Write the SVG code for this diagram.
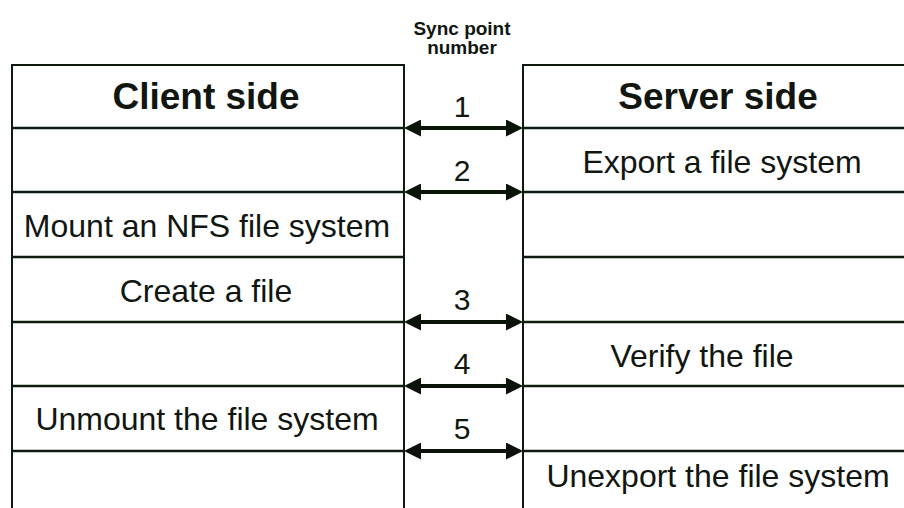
<svg xmlns="http://www.w3.org/2000/svg" width="904" height="508" viewBox="0 0 904 508">
  <style>
    .frame { fill: none; stroke: #111a11; stroke-width: 2; }
    .rule { stroke: #111a11; stroke-width: 2.5; }
    .sync { stroke: #0a120a; stroke-width: 4; fill: none; marker-start: url(#head); marker-end: url(#head); }
    text { font-family: "Liberation Sans", Arial, sans-serif; fill: #111611; text-anchor: middle; }
    .title { font-size: 37px; font-weight: bold; }
    .caption { font-size: 19px; font-weight: bold; }
    .step { font-size: 32px; }
    .num { font-size: 30px; }
  </style>
  <defs>
    <marker id="head" viewBox="0 0 17 17" markerWidth="17" markerHeight="17" refX="7" refY="8.5" markerUnits="userSpaceOnUse" orient="auto-start-reverse">
      <path d="M0,0 L17,8.5 L0,17 z" fill="#0a120a"/>
    </marker>
  </defs>

  <!-- column heading for the sync points -->
  <g id="sync-caption">
    <text class="caption" x="462" y="35">Sync point</text>
    <text class="caption" x="462" y="54">number</text>
  </g>

  <!-- client column -->
  <g id="client-column">
    <path class="frame" d="M12,516 V65 H404 V516"/>
    <line class="rule" x1="12" y1="128" x2="404" y2="128"/>
    <line class="rule" x1="12" y1="192" x2="404" y2="192"/>
    <line class="rule" x1="12" y1="257" x2="404" y2="257"/>
    <line class="rule" x1="12" y1="322" x2="404" y2="322"/>
    <line class="rule" x1="12" y1="386" x2="404" y2="386"/>
    <line class="rule" x1="12" y1="451" x2="404" y2="451"/>
  </g>
  <g id="client-header"><text class="title" x="206" y="109">Client side</text></g>
  <g id="client-mount"><text class="step" x="207" y="237">Mount an NFS file system</text></g>
  <g id="client-create"><text class="step" x="206" y="302">Create a file</text></g>
  <g id="client-unmount"><text class="step" x="207" y="430">Unmount the file system</text></g>

  <!-- server column -->
  <g id="server-column">
    <path class="frame" d="M523,516 V65 H912"/>
    <line class="rule" x1="523" y1="128" x2="904" y2="128"/>
    <line class="rule" x1="523" y1="192" x2="904" y2="192"/>
    <line class="rule" x1="523" y1="257" x2="904" y2="257"/>
    <line class="rule" x1="523" y1="322" x2="904" y2="322"/>
    <line class="rule" x1="523" y1="386" x2="904" y2="386"/>
    <line class="rule" x1="523" y1="451" x2="904" y2="451"/>
  </g>
  <g id="server-header"><text class="title" x="718" y="109">Server side</text></g>
  <g id="server-export"><text class="step" x="722" y="173">Export a file system</text></g>
  <g id="server-verify"><text class="step" x="702" y="367">Verify the file</text></g>
  <g id="server-unexport"><text class="step" x="718" y="487">Unexport the file system</text></g>

  <!-- sync point connectors -->
  <g id="connectors">
    <line class="sync" x1="414" y1="128" x2="513" y2="128"/>
    <line class="sync" x1="414" y1="192" x2="513" y2="192"/>
    <line class="sync" x1="414" y1="322" x2="513" y2="322"/>
    <line class="sync" x1="414" y1="386" x2="513" y2="386"/>
    <line class="sync" x1="414" y1="451" x2="513" y2="451"/>
  </g>
  <g id="sync-numbers">
    <text class="num" x="462" y="117">1</text>
    <text class="num" x="462" y="181">2</text>
    <text class="num" x="462" y="310">3</text>
    <text class="num" x="462" y="374">4</text>
    <text class="num" x="462" y="439">5</text>
  </g>
</svg>
